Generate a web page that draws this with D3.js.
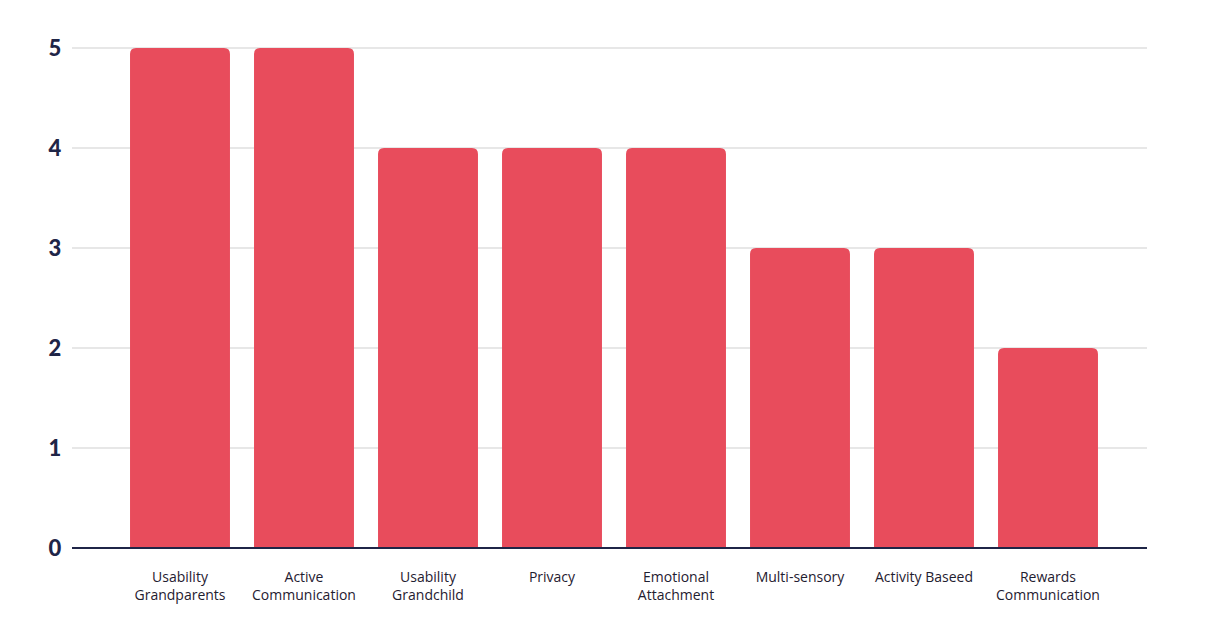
<!DOCTYPE html>
<html><head><meta charset="utf-8">
<script src="https://cdn.jsdelivr.net/npm/d3@7"></script>
<style>body{margin:0;background:#fff}</style></head>
<body><svg id="c" width="1212" height="622"></svg>
<script>
const categories = [["Usability","Grandparents"],["Active","Communication"],["Usability","Grandchild"],["Privacy"],["Emotional","Attachment"],["Multi-sensory"],["Activity Baseed"],["Rewards","Communication"]];
const values = [5,5,4,4,4,3,3,2];
const yTicks = [0,1,2,3,4,5];

const svg = d3.select("#c");
const x = d3.scaleBand().domain(d3.range(categories.length)).range([118,1110]).paddingInner(0.194).paddingOuter(0.097);
const y = d3.scaleLinear().domain([0,5]).range([548,48]);

svg.append("g").selectAll("line").data(yTicks.slice(1)).join("line")
  .attr("x1",72).attr("x2",1147).attr("y1",d=>y(d)).attr("y2",d=>y(d))
  .attr("stroke","#cfcfcf").attr("stroke-width",1);

const r = 6;
svg.append("g").selectAll("path").data(values).join("path")
  .attr("fill","#e84c5c")
  .attr("d",(d,i)=>{
    const x0=x(i), w=x.bandwidth(), y0=y(d), yb=y(0);
    return `M${x0},${yb}V${y0+r}Q${x0},${y0} ${x0+r},${y0}H${x0+w-r}Q${x0+w},${y0} ${x0+w},${y0+r}V${yb}Z`;
  });

svg.append("line").attr("x1",72).attr("x2",1147).attr("y1",y(0)).attr("y2",y(0))
  .attr("stroke","#1f2547").attr("stroke-width",2);

svg.append("g").selectAll("text").data(yTicks).join("text")
  .attr("x",55).attr("y",d=>y(d)).attr("dy","0.36em").attr("text-anchor","middle")
  .attr("font-family","Lato, sans-serif").attr("font-weight",900).attr("font-size",22)
  .attr("fill","#1f2547").text(d=>d);

const lab = svg.append("g").selectAll("text").data(categories).join("text")
  .attr("x",(d,i)=>x(i)+x.bandwidth()/2).attr("y",582).attr("text-anchor","middle")
  .attr("font-family","'Open Sans', sans-serif").attr("font-size",14).attr("fill","#1f2030");
lab.selectAll("tspan").data(d=>d).join("tspan")
  .attr("x",function(){return this.parentNode.getAttribute("x");})
  .attr("dy",(d,j)=>j?18:0).text(d=>d);
</script></body></html>
